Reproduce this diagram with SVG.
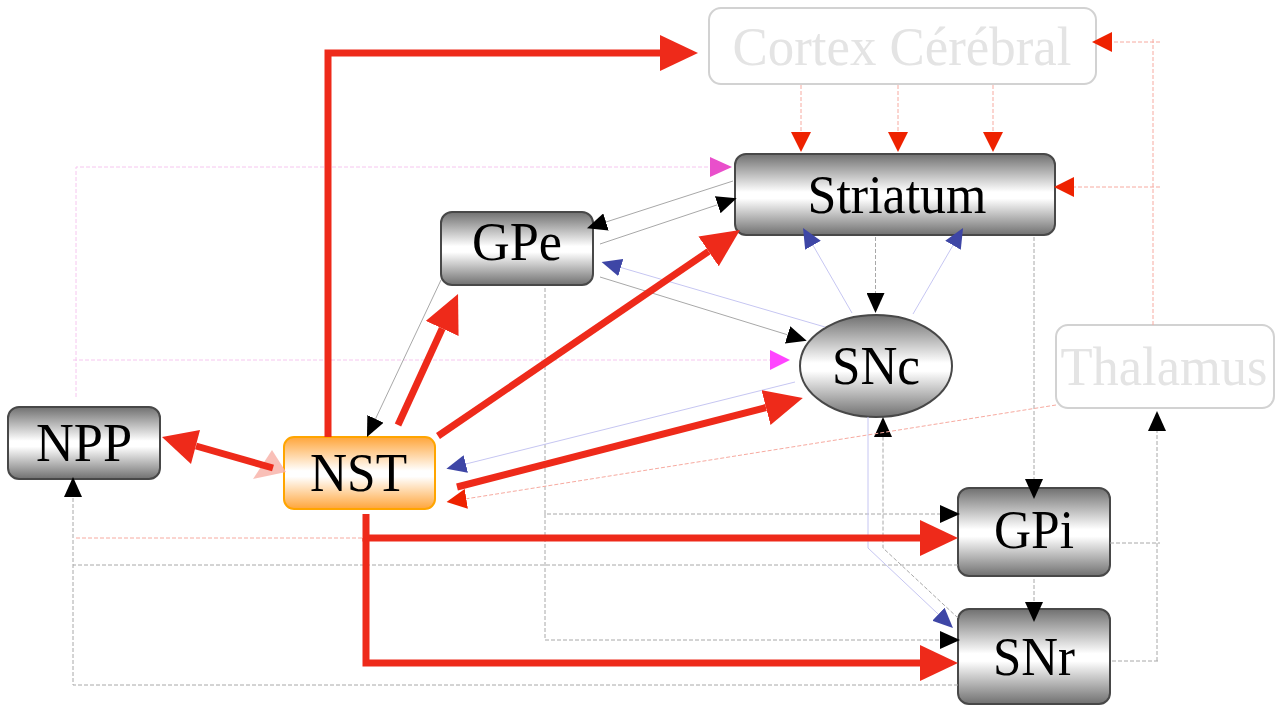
<svg xmlns="http://www.w3.org/2000/svg" width="1278" height="706" viewBox="0 0 1278 706">
<style>
.lbl{font-family:"Liberation Serif","Times New Roman",serif;font-size:54px;text-anchor:middle;fill:#000}
.ghost{fill:#e4e4e4}
.node{stroke:#484848;stroke-width:2;fill:url(#gg)}
.gbox{fill:#fff;stroke:#d2d2d2;stroke-width:2}
.big{fill:none;stroke:#EE2A1A;stroke-width:7;stroke-linejoin:miter}
.gs{fill:none;stroke:#a8a8a8;stroke-width:1}
.gd{fill:none;stroke:#a8a8a8;stroke-width:1;stroke-dasharray:4 2}
.bs{fill:none;stroke:#c6c6f2;stroke-width:1}
.rd{fill:none;stroke:#f7aaa0;stroke-width:1;stroke-dasharray:4 2}
.pd{fill:none;stroke:#f6c6ef;stroke-width:1;stroke-dasharray:4 2}
</style>
<defs>
<linearGradient id="gg" x1="0" y1="0" x2="0" y2="1">
<stop offset="0" stop-color="#707070"/>
<stop offset="0.47" stop-color="#ffffff"/>
<stop offset="0.55" stop-color="#ffffff"/>
<stop offset="1" stop-color="#707070"/>
</linearGradient>
<linearGradient id="og" x1="0" y1="0" x2="0" y2="1">
<stop offset="0" stop-color="#FFA53A"/>
<stop offset="0.47" stop-color="#ffffff"/>
<stop offset="0.55" stop-color="#ffffff"/>
<stop offset="1" stop-color="#FFA53A"/>
</linearGradient>
<marker id="rb" viewBox="0 -18 38 36" markerWidth="38" markerHeight="36" refX="0" refY="0" orient="auto" markerUnits="userSpaceOnUse"><path d="M0,-18 L38,0 L0,18 z" fill="#EE2A1A"/></marker>
<marker id="bk" viewBox="0 -9 20 18" markerWidth="20" markerHeight="18" refX="0" refY="0" orient="auto" markerUnits="userSpaceOnUse"><path d="M0,-9 L20,0 L0,9 z" fill="#000"/></marker>
<marker id="bl" viewBox="0 -9 20 18" markerWidth="20" markerHeight="18" refX="0" refY="0" orient="auto" markerUnits="userSpaceOnUse"><path d="M0,-9 L20,0 L0,9 z" fill="#3E46A6"/></marker>
<marker id="rs" viewBox="0 -10 20 20" markerWidth="20" markerHeight="20" refX="0" refY="0" orient="auto" markerUnits="userSpaceOnUse"><path d="M0,-10 L20,0 L0,10 z" fill="#EE2200"/></marker>
<marker id="mg" viewBox="0 -10 22 20" markerWidth="22" markerHeight="20" refX="0" refY="0" orient="auto" markerUnits="userSpaceOnUse"><path d="M0,-10 L22,0 L0,10 z" fill="#E94FCB"/></marker>
<marker id="mg2" viewBox="0 -10 20 20" markerWidth="20" markerHeight="20" refX="0" refY="0" orient="auto" markerUnits="userSpaceOnUse"><path d="M0,-10 L20,0 L0,10 z" fill="#FF44FF"/></marker>
</defs>
<rect width="1278" height="706" fill="#fff"/>

<g id="cortex"><rect class="gbox" x="709" y="8" width="387" height="76" rx="12"/><text class="lbl ghost" x="902" y="65" textLength="339" lengthAdjust="spacingAndGlyphs">Cortex Cérébral</text></g>
<g id="striatum"><rect class="node" x="735" y="154" width="320" height="81" rx="11"/><text class="lbl" x="897" y="213" textLength="179" lengthAdjust="spacingAndGlyphs">Striatum</text></g>
<g id="gpe"><rect class="node" x="441" y="212" width="152" height="73" rx="11"/><text class="lbl" x="517" y="260" textLength="90" lengthAdjust="spacingAndGlyphs">GPe</text></g>
<g id="snc"><ellipse cx="876" cy="366" rx="76" ry="51" stroke="#484848" stroke-width="2" fill="url(#gg)"/><text class="lbl" x="876" y="384" textLength="88" lengthAdjust="spacingAndGlyphs">SNc</text></g>
<g id="thalamus"><rect class="gbox" x="1056" y="325" width="218" height="83" rx="12"/><text class="lbl ghost" x="1164" y="385" textLength="207" lengthAdjust="spacingAndGlyphs">Thalamus</text></g>
<g id="npp"><rect class="node" x="8" y="407" width="152" height="72" rx="11"/><text class="lbl" x="84" y="461" textLength="96" lengthAdjust="spacingAndGlyphs">NPP</text></g>
<g id="nst"><rect x="284" y="437" width="151" height="72" rx="10" fill="url(#og)" stroke="#FFA500" stroke-width="2"/><text class="lbl" x="358.5" y="491" textLength="97" lengthAdjust="spacingAndGlyphs">NST</text></g>
<g id="gpi"><rect class="node" x="958" y="488" width="152" height="88" rx="11"/><text class="lbl" x="1034" y="548" textLength="80" lengthAdjust="spacingAndGlyphs">GPi</text></g>
<g id="snr"><rect class="node" x="958" y="609" width="152" height="95" rx="11"/><text class="lbl" x="1034" y="675" textLength="82" lengthAdjust="spacingAndGlyphs">SNr</text></g>

<g id="connectors">
<path class="pd" d="M76 397 V167 H710" marker-end="url(#mg)"/>
<path class="pd" d="M73 360 H770" marker-end="url(#mg2)"/>
<path class="rd" d="M76 538 H366"/>
<path class="gd" d="M958 565 H73 V497" marker-end="url(#bk)"/>
<path class="gd" d="M958 685 H73 V565"/>
<path class="gd" d="M545 288 V514 H940" marker-end="url(#bk)"/>
<path class="gd" d="M545 514 V640 H940" marker-end="url(#bk)"/>
<path class="gd" d="M875.5 237 V293" marker-end="url(#bk)"/>
<path class="gd" d="M1034 237 V479" marker-end="url(#bk)"/>
<path class="gd" d="M1034 579 V602" marker-end="url(#bk)"/>
<path class="gd" d="M1110 543 H1160"/>
<path class="gd" d="M1112 661 H1160"/>
<path class="gd" d="M1157 661 V431" marker-end="url(#bk)"/>
<path class="gd" d="M958 618 L883 548 V437" marker-end="url(#bk)"/>
<path class="gs" d="M733 181 L606 222" marker-end="url(#bk)"/>
<path class="gs" d="M600 244 L717.7 204.7" marker-end="url(#bk)"/>
<path class="gs" d="M600 277 L787.6 334.8" marker-end="url(#bk)"/>
<path class="gs" d="M441 280 L375.5 418.9" marker-end="url(#bk)"/>
<path class="bs" d="M825 327 L620.8 267.5" marker-end="url(#bl)"/>
<path class="bs" d="M852 313 L813 245.3" marker-end="url(#bl)"/>
<path class="bs" d="M913 314 L953 245.3" marker-end="url(#bl)"/>
<path class="bs" d="M795 382 L465.8 464" marker-end="url(#bl)"/>
<path class="bs" d="M868 417 V548 L938.4 614.3" marker-end="url(#bl)"/>
<path class="rd" d="M801 85 V132" marker-end="url(#rs)"/>
<path class="rd" d="M898 85 V132" marker-end="url(#rs)"/>
<path class="rd" d="M993 85 V132" marker-end="url(#rs)"/>
<path class="rd" d="M1153 325 V38"/>
<path class="rd" d="M1160 42 H1112" marker-end="url(#rs)"/>
<path class="rd" d="M1160 187 H1074" marker-end="url(#rs)"/>
<path class="rd" d="M1056 405 L466.3 498.8" marker-end="url(#rs)"/>
<polygon points="286,472 272,450 253,479" fill="#F8B4AA" opacity="0.85"/>
<path class="big" d="M196 446 L273 468"/>
<polygon points="162,437 200,430 191,464" fill="#EE2A1A"/>
<path class="big" d="M328 437 V53 H660" marker-end="url(#rb)"/>
<path class="big" d="M398 425 L442.2 328.5" marker-end="url(#rb)"/>
<path class="big" d="M438 436 L708.6 251.4" marker-end="url(#rb)"/>
<path class="big" d="M457 487 L766 407.5" marker-end="url(#rb)"/>
<path class="big" d="M366 514 V538 H920" marker-end="url(#rb)"/>
<path class="big" d="M366 538 V663 H920" marker-end="url(#rb)"/>
</g>
</svg>
